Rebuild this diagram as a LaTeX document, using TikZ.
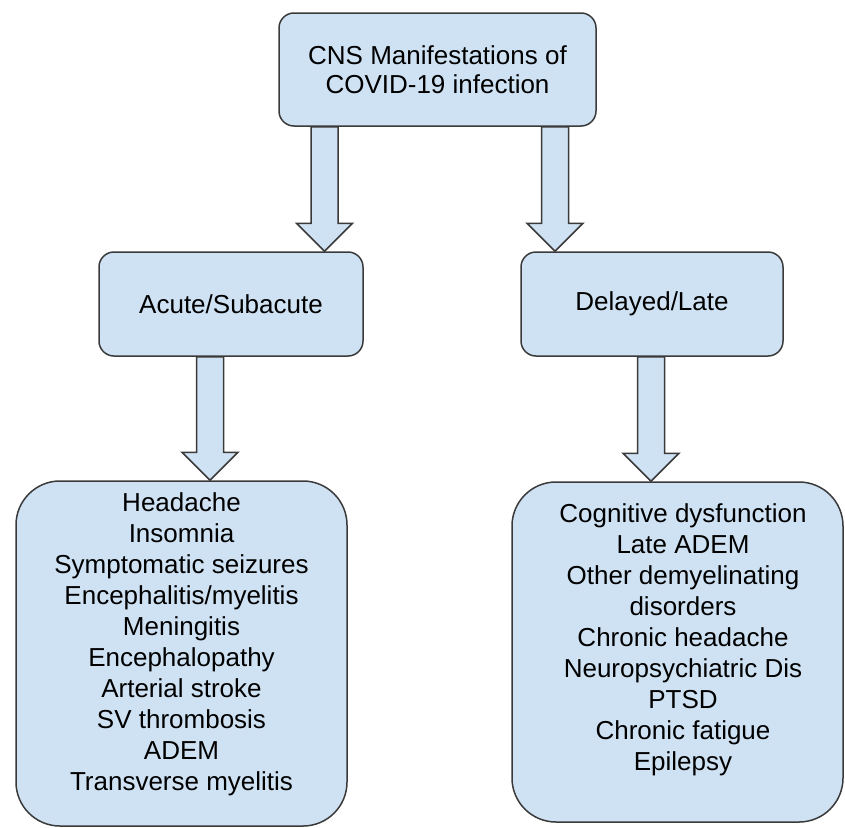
\documentclass[tikz,border=0pt]{standalone}
\usepackage{fontspec}
\setmainfont{Liberation Sans}
\usetikzlibrary{calc}
\definecolor{boxfill}{HTML}{CFE2F3}
\definecolor{boxline}{HTML}{3A3A3A}
\newcommand\blockarrow[2]{%
  \draw[barrow] ($(#1)+(-13.5,0)$) -- ($(#2)+(-13.5,-28)$) -- ($(#2)+(-28,-28)$) -- (#2)
    -- ($(#2)+(28,-28)$) -- ($(#2)+(13.5,-28)$) -- ($(#1)+(13.5,0)$) -- cycle;}
\begin{document}
\begin{tikzpicture}[x=1pt,y=-1pt,
  box/.style={draw=boxline, fill=boxfill, line width=1.5pt, rounded corners=15pt,
    inner sep=0pt, align=center, font=\fontsize{26}{29}\selectfont},
  bigbox/.style={box, rounded corners=44pt, font=\fontsize{26}{31}\selectfont},
  barrow/.style={draw=boxline, fill=boxfill, line width=1.5pt, line join=miter}]
\useasboundingbox (0,0) rectangle (845,827);

\node[box, minimum width=317pt, minimum height=113pt] (top) at (437.5,69.5)
  {CNS Manifestations of\\COVID-19 infection};
\node[box, minimum width=264pt, minimum height=104pt] (acute) at (231,304) {Acute/Subacute};
\node[box, minimum width=262pt, minimum height=104pt] (delayed) at (652,304) {Delayed/Late};

\node[bigbox, minimum width=331pt, minimum height=345pt] (acutelist) at (181.5,653.5)
  {\raisebox{8.5pt}[\height][\depth]{\begin{tabular}{@{}c@{}}
   Headache\\ Insomnia\\ Symptomatic seizures\\ Encephalitis/myelitis\\ Meningitis\\
   Encephalopathy\\ Arterial stroke\\ SV thrombosis\\ ADEM\\ Transverse myelitis
   \end{tabular}}};
\node[bigbox, minimum width=331pt, minimum height=340pt] (latelist) at (677.5,652)
  {\hspace*{11pt}\raisebox{11.5pt}[\height][\depth]{\begin{tabular}{@{}c@{}}
   Cognitive dysfunction\\ Late ADEM\\ Other demyelinating\\ disorders\\ Chronic headache\\
   Neuropsychiatric Dis\\ PTSD\\ Chronic fatigue\\ Epilepsy
   \end{tabular}}};

\coordinate (a1s) at ($(top.south)+(-113,0)$);
\coordinate (a1e) at (a1s |- acute.north);
\coordinate (a2s) at ($(top.south)+(117.5,0)$);
\coordinate (a2e) at (a2s |- delayed.north);
\coordinate (a3s) at ($(acute.south)+(-21,0)$);
\coordinate (a3e) at (a3s |- acutelist.north);
\coordinate (a4s) at ($(delayed.south)+(-1,0)$);
\coordinate (a4e) at (a4s |- latelist.north);

\blockarrow{a1s}{a1e}
\blockarrow{a2s}{a2e}
\blockarrow{a3s}{a3e}
\blockarrow{a4s}{a4e}
\end{tikzpicture}
\end{document}
